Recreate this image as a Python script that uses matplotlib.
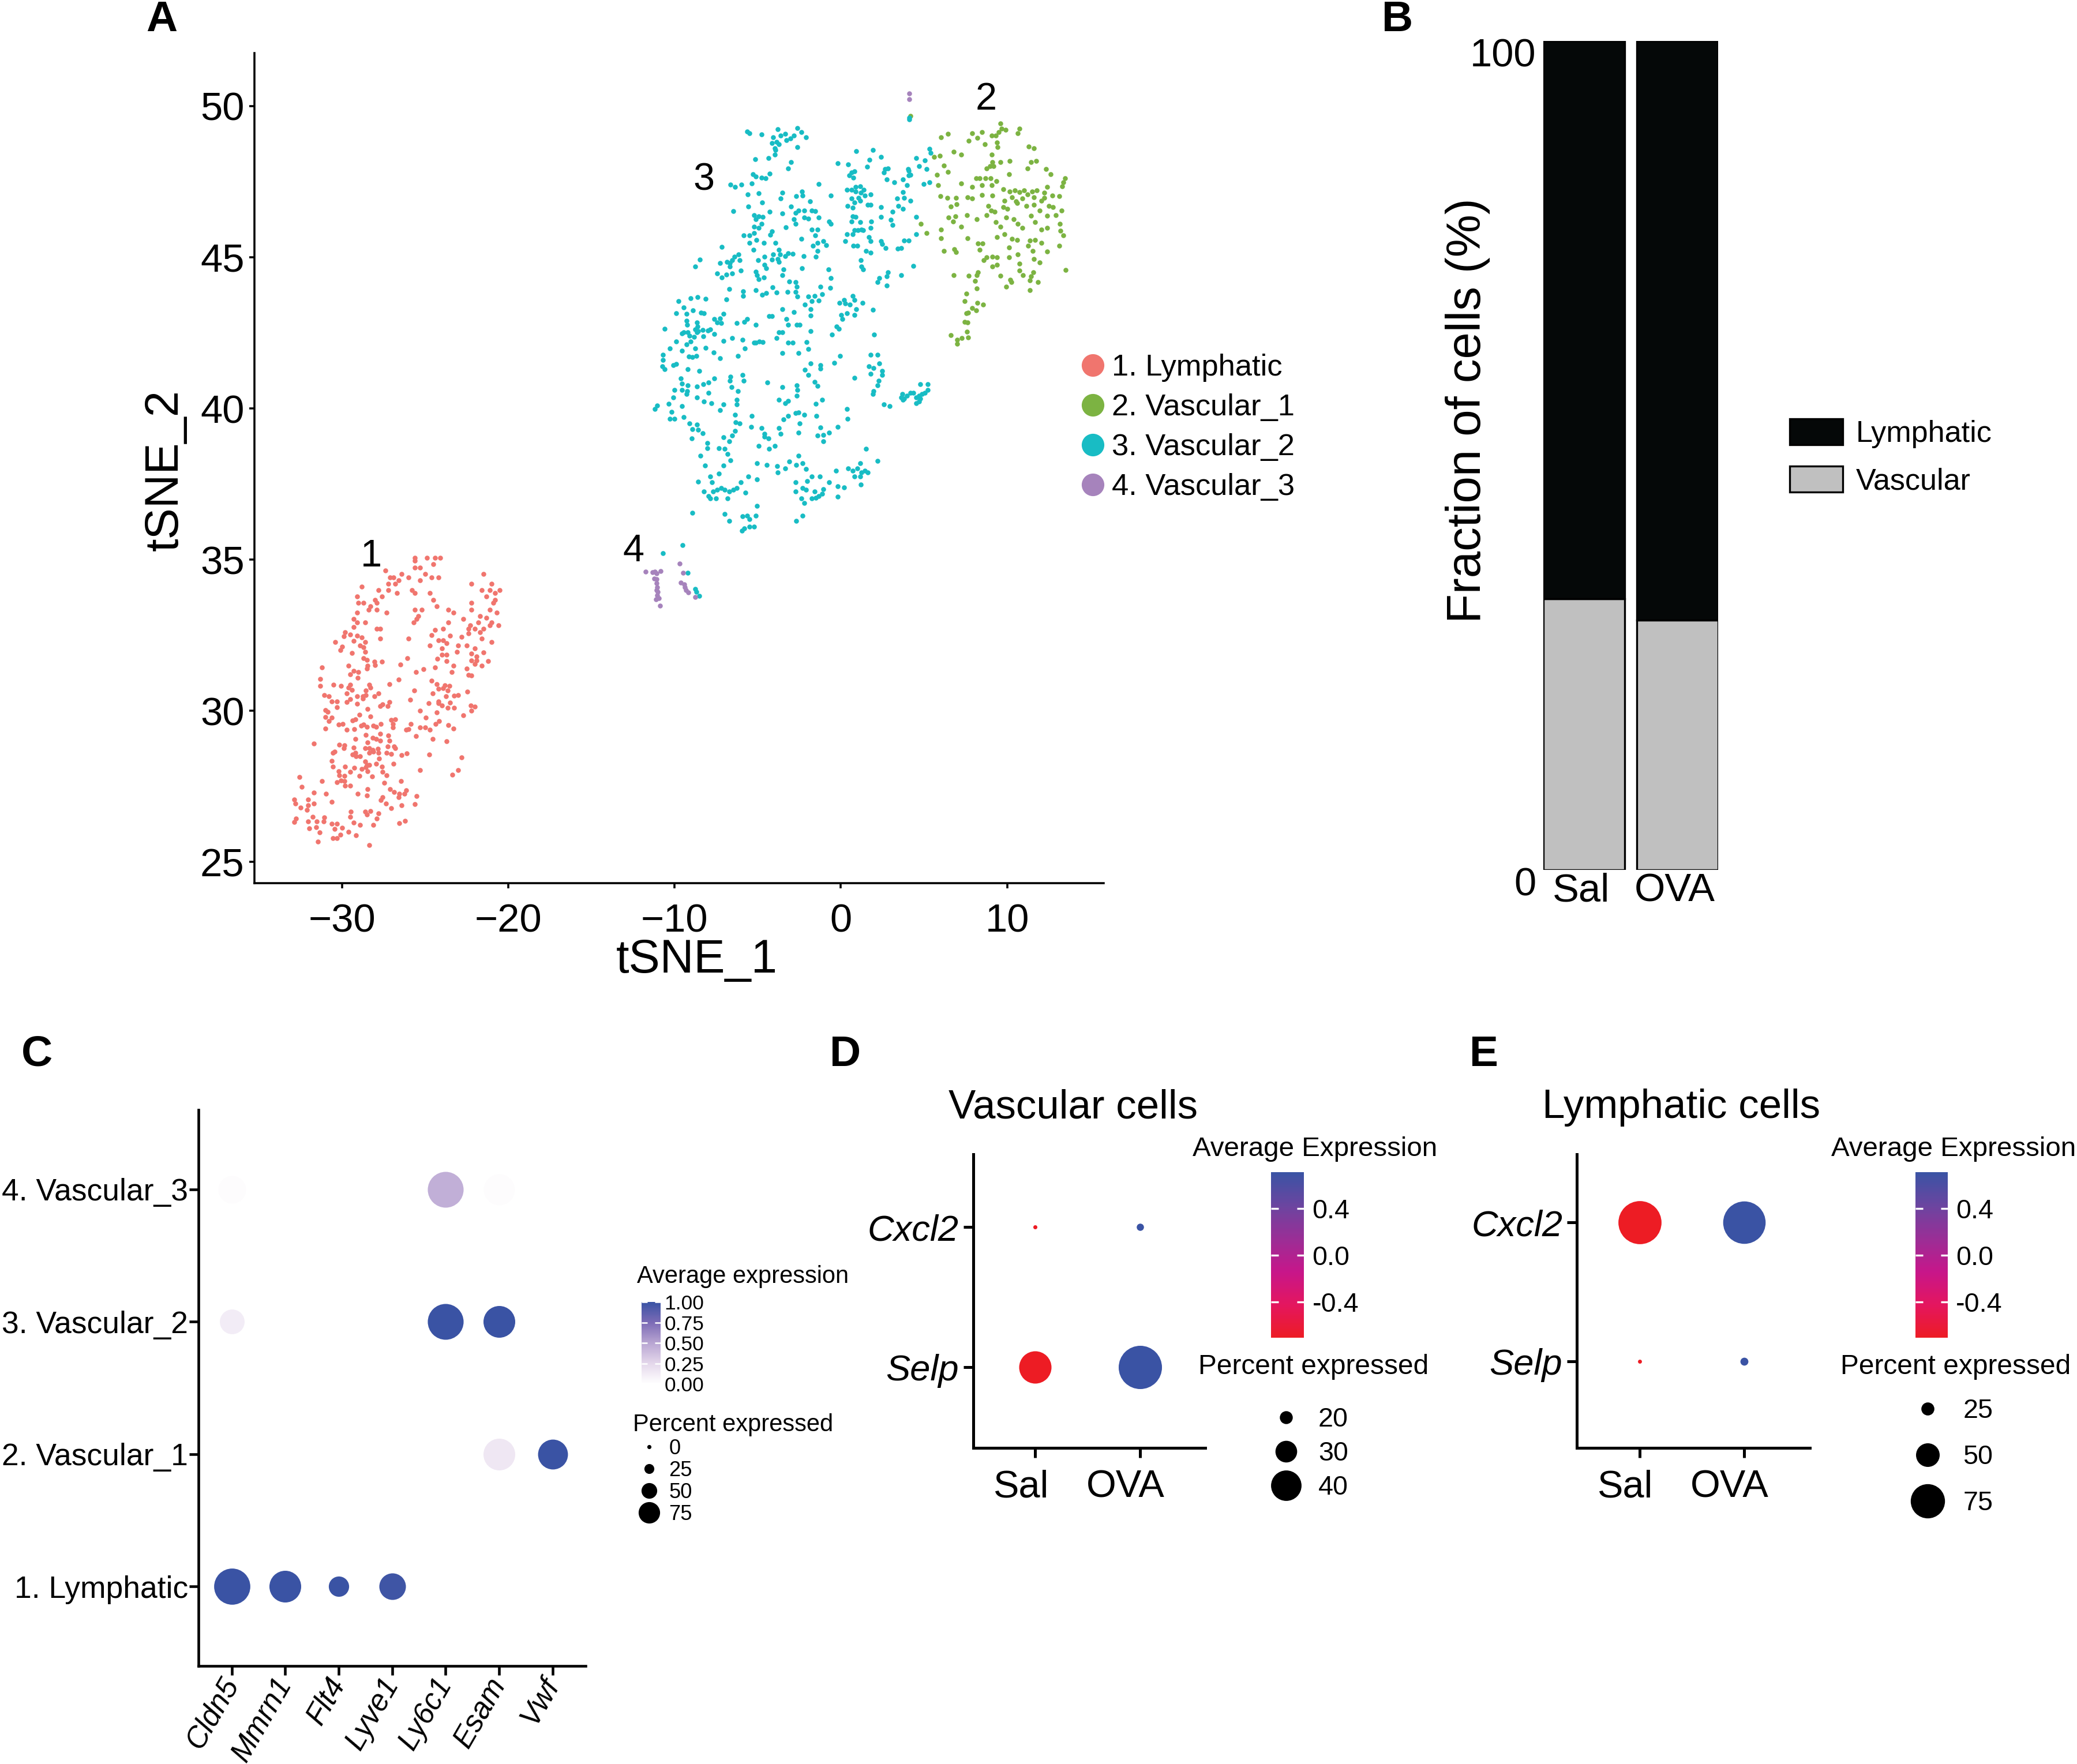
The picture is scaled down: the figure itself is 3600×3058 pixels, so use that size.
import numpy as np
import matplotlib
matplotlib.use('Agg')
import matplotlib.pyplot as plt
from matplotlib.colors import LinearSegmentedColormap, Normalize
from matplotlib.cm import ScalarMappable
from matplotlib.lines import Line2D
from matplotlib.patches import Patch
import matplotlib.transforms as mtransforms

plt.rcParams['font.family'] = ['Liberation Sans', 'DejaVu Sans']

# ---------------- data: panel A (tSNE coordinates) ----------------
lymphatic_pts = np.array([
    (-25.6,35.07),(-24.9,35.07),(-24.4,35.07),(-24.1,35.07),(-25.6,34.96),(-24.5,34.85),(-25.6,34.74),(-25.3,34.74),
    (-27.4,34.64),(-26.4,34.53),(-27.1,34.42),(-26.9,34.42),(-26.6,34.32),(-26.0,34.42),(-25.0,34.53),(-24.6,34.42),
    (-24.2,34.42),(-21.5,34.53),(-21.0,34.21),(-22.2,34.21),(-27.2,34.21),(-26.8,34.21),(-25.3,34.32),(-28.8,34.10),
    (-27.8,33.99),(-27.2,33.99),(-26.7,33.89),(-25.8,33.99),(-25.6,33.89),(-24.7,33.89),(-21.6,33.99),(-21.1,33.99),
    (-20.8,33.89),(-20.5,33.99),(-29.1,33.78),(-27.6,33.78),(-21.3,33.78),(-20.8,33.67),(-29.0,33.57),(-28.7,33.57),
    (-28.3,33.46),(-28.0,33.67),(-27.9,33.57),(-24.5,33.67),(-22.2,33.57),(-20.9,33.57),(-24.3,33.46),(-28.4,33.35),
    (-27.9,33.35),(-27.3,33.25),(-25.6,33.35),(-25.2,33.35),(-23.6,33.35),(-23.3,33.25),(-22.2,33.35),(-21.1,33.35),
    (-20.7,33.25),(-29.1,33.25),(-25.4,33.14),(-25.5,33.03),(-29.3,33.03),(-29.1,32.92),(-25.7,32.92),(-28.6,32.92),
    (-23.6,32.92),(-22.7,33.03),(-21.7,33.14),(-21.3,33.08),(-21.8,32.92),(-21.0,32.92),(-20.6,32.82),(-21.1,32.82),
    (-29.3,32.77),(-27.9,32.71),(-27.7,32.71),(-23.9,32.71),(-22.3,32.82),(-22.4,32.71),(-22.0,32.71),(-21.5,32.71),
    (-29.8,32.60),(-29.5,32.52),(-29.9,32.46),(-29.1,32.48),(-28.8,32.42),(-28.6,32.28),(-29.3,32.31),(-27.7,32.39),
    (-26.0,32.39),(-24.6,32.50),(-24.4,32.68),(-23.5,32.49),(-22.8,32.45),(-22.4,32.56),(-21.7,32.60),(-21.6,32.39),
    (-30.4,32.28),(-30.0,32.12),(-30.1,32.01),(-28.9,32.16),(-28.7,32.10),(-28.6,31.96),(-29.4,31.91),(-24.2,32.34),
    (-23.9,32.34),(-23.7,32.23),(-24.7,32.16),(-23.0,32.17),(-22.5,32.17),(-21.0,32.28),(-22.0,32.07),(-21.5,31.93),
    (-24.0,32.07),(-24.0,31.85),(-23.7,31.85),(-23.1,31.96),(-22.2,31.89),(-21.9,31.80),(-28.7,31.75),(-28.5,31.69),
    (-26.05,31.75),(-24.25,31.73),(-22.2,31.67),(-21.9,31.67),(-21.2,31.64),(-23.7,31.64),(-28.05,31.62),(-28.0,31.51),
    (-27.6,31.62),(-28.45,31.50),(-28.5,31.40),(-29.6,31.50),(-26.5,31.53),(-22.0,31.55),(-21.6,31.50),(-31.2,31.43),
    (-24.4,31.44),(-23.3,31.50),(-25.1,31.38),(-22.5,31.40),(-29.3,31.32),(-29.0,31.29),(-29.5,31.20),(-29.05,31.09),
    (-25.55,31.28),(-23.4,31.29),(-22.4,31.18),(-22.2,31.16),(-31.3,31.05),(-26.6,31.03),(-24.6,31.00),(-31.3,30.83),
    (-30.5,30.86),(-30.05,30.82),(-29.5,30.86),(-29.6,30.77),(-29.4,30.70),(-28.35,30.87),(-28.3,30.76),(-27.15,30.88),
    (-24.3,30.89),(-23.8,30.84),(-23.55,30.83),(-24.2,30.73),(-23.9,30.75),(-25.65,30.68),(-28.55,30.67),(-23.65,30.67),
    (-31.05,30.53),(-30.8,30.48),(-29.7,30.58),(-29.1,30.49),(-28.75,30.49),(-28.55,30.53),(-28.75,30.40),(-28.05,30.49),
    (-27.8,30.57),(-24.55,30.58),(-23.75,30.49),(-23.25,30.50),(-23.0,30.53),(-22.45,30.63),(-30.6,30.31),(-30.3,30.32),
    (-29.7,30.30),(-29.5,30.38),(-29.1,30.23),(-27.15,30.30),(-25.9,30.36),(-24.8,30.25),(-24.2,30.32),(-24.2,30.25),
    (-24.0,30.18),(-23.5,30.27),(-30.3,30.12),(-27.7,30.15),(-27.55,30.21),(-27.25,30.16),(-22.25,30.17),(-22.0,30.13),
    (-22.2,30.01),(-23.65,30.10),(-23.25,30.10),(-25.3,30.00),(-24.3,29.95),(-31.0,30.03),(-30.85,29.96),(-28.95,29.88),
    (-28.45,30.06),(-31.0,29.80),(-30.6,29.78),(-30.8,29.67),(-29.35,29.68),(-29.2,29.72),(-28.3,29.82),(-27.05,29.71),
    (-26.8,29.72),(-24.95,29.78),(-22.7,29.85),(-30.2,29.54),(-29.95,29.56),(-31.0,29.42),(-29.7,29.37),(-29.25,29.40),
    (-28.85,29.51),(-28.7,29.55),(-28.5,29.48),(-28.1,29.51),(-27.95,29.48),(-27.65,29.57),(-26.95,29.57),(-26.95,29.46),
    (-25.85,29.57),(-26.15,29.37),(-26.0,29.39),(-25.3,29.46),(-25.0,29.46),(-24.7,29.37),(-24.35,29.56),(-24.15,29.66),
    (-23.6,29.52),(-23.3,29.42),(-25.55,29.16),(-24.55,29.08),(-23.7,29.00),(-29.2,29.08),(-28.55,29.20),(-28.15,29.10),
    (-27.95,29.07),(-27.7,29.25),(-27.7,29.02),(-27.2,29.18),(-27.15,29.01),(-31.7,28.92),(-30.15,28.88),(-29.85,28.86),
    (-29.9,28.76),(-29.3,28.79),(-28.45,28.96),(-28.6,28.77),(-28.35,28.76),(-28.1,28.65),(-27.85,28.75),(-27.25,28.82),
    (-26.85,28.82),(-26.8,28.76),(-30.55,28.62),(-30.45,28.65),(-29.2,28.61),(-29.15,28.50),(-29.35,28.55),(-28.9,28.50),
    (-28.35,28.62),(-28.15,28.70),(-27.8,28.62),(-27.3,28.62),(-27.05,28.58),(-26.4,28.54),(-26.1,28.59),(-24.75,28.55),
    (-22.8,28.47),(-30.6,28.35),(-27.75,28.42),(-28.6,28.32),(-28.5,28.21),(-28.35,28.22),(-27.95,28.25),(-26.9,28.26),
    (-30.55,28.15),(-29.8,28.15),(-29.25,28.11),(-28.8,28.08),(-28.55,28.13),(-27.6,28.16),(-27.55,27.98),(-30.2,28.00),
    (-29.5,27.99),(-28.45,28.00),(-25.3,28.04),(-23.0,28.05),(-32.55,27.82),(-30.15,27.87),(-29.85,27.86),(-28.95,27.86),
    (-28.2,27.83),(-27.3,27.87),(-23.35,27.89),(-31.2,27.67),(-30.3,27.64),(-30.05,27.70),(-29.85,27.67),(-26.45,27.67),
    (-27.45,27.63),(-29.8,27.53),(-29.5,27.52),(-32.4,27.48),(-31.7,27.29),(-30.95,27.26),(-29.05,27.25),(-28.5,27.21),
    (-28.45,27.41),(-27.1,27.42),(-26.85,27.31),(-26.55,27.26),(-26.25,27.26),(-27.55,27.15),(-26.6,27.14),(-26.15,27.37),
    (-25.5,27.18),(-32.85,27.07),(-32.05,27.07),(-32.8,26.93),(-32.05,26.88),(-31.7,26.93),(-30.6,26.99),(-27.65,27.05),
    (-27.35,26.93),(-27.05,26.78),(-26.4,26.87),(-25.6,26.92),(-32.5,26.80),(-32.1,26.72),(-29.45,26.66),(-28.6,26.66),
    (-28.5,26.58),(-28.3,26.68),(-27.8,26.62),(-32.75,26.43),(-32.85,26.32),(-32.05,26.34),(-31.75,26.50),(-31.5,26.34),
    (-31.1,26.34),(-31.05,26.48),(-29.5,26.50),(-27.9,26.43),(-31.95,26.12),(-31.55,26.15),(-30.6,26.26),(-30.3,26.26),
    (-30.45,26.09),(-30.0,26.13),(-31.35,25.98),(-29.6,26.00),(-29.3,26.31),(-28.9,26.22),(-28.1,26.22),(-26.55,26.29),
    (-26.2,26.36),(-30.55,25.80),(-30.3,25.80),(-30.1,25.91),(-29.15,25.88),(-31.45,25.67),(-28.35,25.56),
])

vascular1_pts = np.array([
    (4.18,49.68),(9.58,49.42),(9.67,49.25),(9.49,49.13),(9.9,49.22),(10.73,49.25),(10.64,49.1),(7.9,49.1),
    (8.48,49.13),(6.04,48.96),(6.44,49.08),(7.68,48.86),(8.22,48.95),(9.08,49.03),(9.31,49.03),(9.4,48.79),
    (9.44,48.64),(8.66,48.74),(11.31,48.67),(11.62,48.61),(6.78,48.48),(7.24,48.4),(5.95,48.35),(5.59,48.32),
    (9.08,48.4),(9.1,48.15),(9.58,48.15),(10.15,48.18),(11.44,48.15),(11.76,48.18),(6.21,48.03),(8.78,47.93),
    (8.96,48.01),(9.19,48.01),(6.44,47.83),(5.77,47.72),(11.23,47.94),(12.32,47.91),(12.62,47.74),(10.11,47.74),
    (13.48,47.62),(13.39,47.47),(13.3,47.35),(5.86,47.38),(7.24,47.44),(8.13,47.62),(8.34,47.62),(8.69,47.62),
    (9.01,47.62),(9.37,47.52),(7.9,47.33),(8.48,47.38),(9.08,47.38),(9.76,47.25),(10.15,47.18),(10.46,47.21),
    (10.73,47.15),(11.03,47.21),(11.23,47.08),(11.49,47.18),(11.79,47.21),(12.24,47.13),(12.41,47.33),(12.73,47.04),
    (13.12,47.02),(6.0,47.02),(6.39,46.96),(6.92,46.96),(7.63,46.99),(7.9,46.94),(8.48,47.06),(9.1,47.04),
    (9.84,46.86),(10.29,46.99),(10.55,46.84),(10.91,46.94),(11.62,46.99),(12.06,46.86),(12.24,46.96),(12.5,46.7),
    (12.77,46.65),(13.26,46.55),(6.6,46.67),(6.96,46.76),(7.6,46.4),(8.87,46.7),(9.05,46.55),(9.26,46.5),
    (9.76,46.65),(10.02,46.6),(10.61,46.79),(11.17,46.7),(11.62,46.74),(11.97,46.55),(12.41,46.37),(12.94,46.4),
    (4.8,46.11),(6.48,46.31),(6.75,46.18),(6.89,46.36),(7.24,46.0),(6.04,45.92),(8.16,46.26),(8.78,46.4),
    (9.31,46.16),(9.58,46.0),(9.93,46.31),(10.38,46.26),(10.64,46.11),(11.44,46.37),(11.67,46.16),(12.06,45.92),
    (12.41,45.97),(13.16,46.11),(13.21,45.87),(5.15,45.8),(6.04,45.63),(7.63,45.63),(8.25,45.46),(8.52,45.46),
    (9.4,45.67),(9.84,45.77),(10.29,45.6),(10.61,45.58),(10.91,45.97),(11.35,45.56),(11.67,45.58),(12.06,45.48),
    (13.39,45.72),(13.12,45.38),(6.21,45.21),(6.83,45.27),(6.92,45.17),(8.34,45.24),(9.1,45.01),(9.4,45.0),
    (8.78,45.0),(8.6,44.9),(10.11,45.33),(11.26,45.38),(11.53,45.21),(11.62,44.94),(12.41,45.19),(10.11,45.0),
    (10.64,45.09),(9.1,44.7),(9.4,44.75),(10.73,44.78),(11.97,44.82),(13.51,44.58),(6.8,44.41),(7.68,44.39),
    (8.16,44.41),(8.25,44.51),(9.58,44.39),(10.2,44.26),(10.25,44.17),(10.73,44.56),(10.96,44.41),(11.44,44.36),
    (11.58,44.51),(11.35,44.23),(11.85,44.17),(9.93,44.02),(11.35,43.92),(8.07,44.21),(8.16,43.97),(7.54,43.8),
    (7.45,43.55),(8.2,43.49),(8.57,43.44),(7.9,43.32),(8.13,43.24),(7.54,43.14),(7.67,43.16),(7.45,42.87),
    (7.63,42.85),(7.6,42.54),(6.6,42.43),(7.01,42.27),(7.28,42.32),(7.67,42.34),(6.98,42.14),
])

vascular2_pts = np.array([
    (-5.62,49.16),(-5.48,49.10),(-4.77,49.06),(-3.80,49.24),(-2.61,49.27),(-2.38,49.13),(-2.11,48.96),(-3.62,49.03),
    (-3.35,49.08),(-4.06,48.96),(-4.15,48.77),(-3.88,48.81),(-3.71,48.74),(-3.97,48.61),(-3.92,48.54),(-3.26,48.88),
    (-3.03,48.93),(-2.82,49.03),(-2.61,48.64),(-5.16,48.25),(-4.36,48.27),(-3.97,48.40),(-3.0,48.15),(-3.18,47.93),
    (-5.30,47.74),(-5.12,47.67),(-4.77,47.64),(-4.54,47.62),(-4.27,47.77),(-6.63,47.41),(-6.36,47.33),(-5.97,47.41),
    (-5.34,47.44),(-5.60,47.08),(-4.95,47.11),(-4.72,46.82),(-5.57,46.67),(-6.45,46.52),(-4.27,46.50),(-5.21,46.40),
    (-4.95,46.36),(-4.68,46.34),(-5.12,46.26),(-4.77,46.11),(-5.23,46.01),(-4.95,45.97),(-5.21,45.80),(-5.48,45.72),
    (-5.83,45.72),(-5.51,45.48),(-5.09,45.58),(-4.63,45.48),(-4.15,45.85),(-4.24,45.74),(-3.62,46.94),(-3.53,47.13),
    (-2.68,47.02),(-2.33,47.18),(-2.29,47.04),(-1.85,46.84),(-3.0,46.67),(-2.73,46.47),(-2.56,46.55),(-2.20,46.55),
    (-2.20,46.31),(-1.94,46.28),(-1.76,46.55),(-1.55,46.52),(-1.32,46.31),(-3.53,46.45),(-3.30,45.99),(-2.82,46.26),
    (-2.73,46.11),(-2.38,45.61),(-1.76,45.92),(-1.41,45.92),(-1.55,45.72),(-1.41,45.48),(-1.05,45.53),(-0.88,45.40),
    (-1.67,45.38),(-1.41,45.21),(-1.32,47.42),(-0.61,47.04),(-0.20,48.11),(0.45,48.06),(0.93,48.51),(1.73,48.22),
    (1.92,48.54),(2.40,48.32),(1.57,47.99),(0.63,47.81),(0.81,47.84),(0.51,47.70),(0.75,47.64),(2.67,47.91),
    (2.84,47.94),(2.58,47.81),(2.75,47.57),(3.20,47.47),(3.73,47.57),(4.08,47.86),(4.08,47.70),(3.99,47.38),
    (0.36,47.23),(0.63,47.23),(0.90,47.33),(1.16,47.35),(0.90,47.18),(1.21,47.13),(1.39,47.23),(0.63,46.94),
    (1.07,46.96),(1.16,46.86),(1.43,47.04),(1.78,47.08),(0.81,46.82),(0.40,46.70),(0.72,46.63),(1.60,46.74),
    (1.78,46.74),(2.40,46.65),(3.11,46.50),(3.46,46.70),(3.37,46.94),(3.73,47.15),(3.82,46.96),(4.17,46.86),
    (3.73,46.60),(0.72,46.36),(0.90,46.34),(1.16,46.16),(0.63,46.18),(1.25,45.92),(1.83,46.18),(1.78,45.97),
    (0.36,45.77),(0.72,45.77),(0.81,45.89),(1.02,45.89),(1.34,45.89),(1.69,45.67),(1.78,45.53),(0.28,45.53),
    (0.75,45.38),(0.98,45.38),(1.51,45.21),(1.78,45.16),(2.40,45.53),(2.49,45.43),(2.70,45.30),(2.40,46.33),
    (3.02,46.23),(3.11,46.06),(3.43,45.28),(3.64,45.30),(3.82,45.55),(4.08,45.55),(4.52,45.77),(4.52,46.34),
    (4.70,48.01),(5.05,48.20),(5.32,48.59),(5.41,48.45),(5.14,47.91),(4.97,47.43),(5.32,47.47),(4.52,48.28),
    (4.05,47.91),(4.17,47.72),(-0.61,46.11),(-0.70,46.18),(-1.49,45.01),(-2.24,45.04),(-3.18,45.14),(-2.91,45.12),
    (-3.35,45.04),(-3.65,45.09),(-3.71,45.24),(-3.92,45.48),(-4.06,45.09),(-4.15,44.92),(-3.80,44.94),(-3.71,44.85),
    (-4.59,45.01),(-4.59,44.75),(-4.50,44.63),(-4.98,44.90),(-5.25,45.24),(-6.15,45.09),(-6.40,45.01),(-6.10,44.90),
    (-6.54,44.90),(-6.66,44.80),(-6.86,44.85),(-7.16,45.35),(-7.28,44.80),(-7.42,44.46),(-7.16,44.33),(-6.89,44.43),
    (-6.54,44.46),(-6.01,44.56),(-6.68,44.70),(-8.49,44.92),(-8.75,44.70),(-5.12,44.53),(-5.03,44.41),(-4.95,44.28),
    (-4.63,44.34),(-3.44,44.60),(-3.53,44.41),(-2.33,44.63),(-0.75,44.60),(-0.61,44.31),(-3.09,44.20),(-2.73,44.17),
    (-2.65,44.02),(-3.21,43.85),(-2.73,43.85),(-2.61,43.70),(-3.88,43.83),(-4.10,44.0),(-4.50,43.81),(-4.73,43.75),
    (-5.12,43.92),(-5.87,43.87),(-5.87,43.73),(-6.72,43.94),(-6.89,43.61),(-1.94,43.71),(-1.58,43.73),(-1.23,44.02),
    (-1.14,43.77),(-1.32,43.57),(-1.76,43.55),(-2.15,43.44),(-1.80,43.29),(-0.65,43.99),(0.72,43.73),(0.81,43.58),
    (0.28,43.47),(0.54,43.44),(0.93,43.29),(1.30,43.49),(1.92,43.26),(0.01,43.10),(0.36,43.14),(0.81,43.10),
    (0.10,42.95),(-0.26,42.71),(-0.13,42.63),(-0.52,42.44),(1.99,42.44),(-1.80,43.07),(-1.80,42.56),(-2.82,43.19),
    (-2.65,42.76),(-2.47,42.76),(-3.53,43.29),(-3.26,42.95),(-3.18,42.76),(-3.71,42.51),(-3.53,42.51),(-4.15,43.05),
    (-4.33,43.05),(-3.88,42.32),(-4.91,42.22),(-5.21,42.17),(-4.68,42.19),(-5.78,41.98),(-6.19,41.73),(-6.54,42.32),
    (-5.92,42.27),(-7.07,42.24),(-7.60,42.46),(-7.99,42.58),(-8.27,42.39),(-8.66,42.51),(-8.75,42.61),(-9.11,42.41),
    (-9.46,42.51),(-9.90,42.22),(-10.29,41.98),(-10.70,41.78),(-10.70,41.61),(-10.75,41.39),(-10.61,41.30),(-10.08,41.44),
    (-9.90,41.47),(-9.55,41.90),(-9.28,42.12),(-9.02,42.22),(-8.84,42.37),(-8.75,41.98),(-8.70,41.73),(-8.93,41.69),
    (-9.14,41.71),(-8.13,42.0),(-7.64,41.86),(-7.28,41.66),(-10.61,42.64),(-9.76,43.55),(-9.46,43.34),(-9.05,43.65),
    (-8.63,43.68),(-8.13,43.63),(-8.22,43.14),(-8.40,43.16),(-8.88,43.24),(-9.28,43.12),(-9.28,42.90),(-9.23,42.76),
    (-8.66,42.85),(-8.63,42.71),(-8.57,42.56),(-8.31,42.59),(-9.55,42.48),(-9.20,42.51),(-9.90,43.14),(-7.60,42.95),
    (-7.42,42.85),(-7.21,42.83),(-7.07,43.12),(-7.87,42.61),(-7.28,42.97),(-6.27,42.83),(-5.80,42.87),(-5.65,42.95),
    (-5.12,42.76),(-5.12,42.17),(-3.53,41.83),(-3.18,42.17),(-2.91,42.17),(-2.56,41.83),(-2.06,42.19),(-1.94,41.96),
    (-0.40,41.51),(-0.04,41.73),(-1.80,41.49),(-1.23,41.44),(-1.23,41.32),(-2.15,41.28),(-1.97,41.10),(-1.58,40.88),
    (-1.41,40.74),(-2.65,40.76),(-2.61,40.62),(-3.53,40.71),(-2.65,40.42),(-4.41,40.86),(-5.92,41.10),(-5.83,40.91),
    (-6.63,41.05),(-6.68,40.91),(-6.57,40.71),(-7.60,41.0),(-7.95,40.86),(-8.52,41.25),(-9.20,41.30),(-9.64,41.0),
    (-9.55,40.83),(-9.20,40.76),(-9.55,40.62),(-9.23,40.57),(-8.66,40.73),(-8.26,40.81),(-9.99,40.62),(-9.28,40.47),
    (-10.08,40.37),(-7.95,40.52),(-8.66,40.37),(-8.22,40.23),(-7.78,40.18),(-7.07,40.13),(-7.25,39.95),(-6.27,40.28),
    (-6.19,40.57),(-6.27,40.13),(-6.36,39.79),(-6.31,39.55),(-6.10,39.50),(-6.36,39.25),(-5.34,39.76),(-5.39,39.40),
    (-4.77,39.35),(-4.59,39.16),(-4.59,39.06),(-4.36,39.01),(-4.33,38.67),(-3.97,38.77),(-4.95,38.77),(-3.71,39.35),
    (-3.62,39.16),(-3.44,39.64),(-3.18,39.76),(-2.73,39.84),(-2.56,39.86),(-2.20,39.79),(-2.47,39.50),(-3.35,40.18),
    (-3.18,40.25),(-3.71,40.28),(-2.56,39.20),(-1.46,39.76),(-1.23,39.37),(-1.41,39.11),(-1.05,39.13),(-1.05,38.91),
    (-0.70,39.20),(-0.17,39.40),(0.36,39.98),(0.40,39.66),(-1.14,40.28),(-1.49,40.15),(-11.05,40.10),(-11.18,39.98),
    (-10.34,40.16),(-9.55,40.08),(-10.17,39.89),(-10.29,39.66),(-9.99,39.66),(-9.46,39.72),(-9.11,39.50),(-8.66,39.47),
    (-8.93,39.32),(-8.57,39.30),(-8.31,39.18),(-8.96,39.01),(-8.04,38.86),(-8.04,38.69),(-7.34,38.69),(-6.98,38.67),
    (-6.72,38.91),(-6.54,39.11),(-7.07,39.04),(-8.45,38.43),(-8.17,38.11),(-7.07,38.11),(-6.63,38.28),(-6.80,38.50),
    (-5.03,38.18),(-4.45,38.13),(-3.83,38.09),(-3.80,37.89),(-3.35,38.01),(-3.09,38.25),(-2.68,38.13),(-2.56,38.43),
    (-2.29,38.18),(-2.11,37.99),(-1.76,37.75),(-2.02,37.60),(-2.29,37.36),(-2.11,37.31),(-2.73,37.55),(-1.26,37.75),
    (-0.70,37.55),(-1.05,37.33),(-1.32,37.11),(-1.14,37.18),(-0.17,37.42),(0.19,37.39),(-0.20,37.09),(-0.29,37.94),
    (0.45,38.01),(0.72,37.94),(0.98,38.01),(1.16,38.18),(1.25,37.89),(1.43,37.94),(1.60,37.89),(1.51,38.67),
    (2.22,38.26),(0.81,37.75),(1.16,37.75),(1.21,37.48),(-8.57,37.58),(-7.87,37.75),(-7.74,37.55),(-7.34,37.84),
    (-7.69,37.26),(-7.42,37.31),(-7.19,37.36),(-6.98,37.31),(-6.72,37.26),(-6.45,37.31),(-6.27,37.36),(-6.01,37.55),
    (-5.74,37.21),(-5.57,37.75),(-5.03,37.65),(-8.22,37.26),(-7.95,37.11),(-7.51,37.02),(-6.80,37.02),(-7.87,37.02),
    (-2.73,37.26),(-2.38,37.02),(-1.76,37.02),(-1.49,37.05),(-1.58,37.26),(-2.20,36.87),(-8.93,36.55),(-6.98,36.51),
    (-6.72,36.29),(-5.92,36.43),(-5.65,36.45),(-5.48,36.34),(-5.12,36.45),(-5.03,36.77),(-5.96,35.95),(-5.80,36.04),
    (-5.51,36.09),(-5.21,36.09),(-2.68,36.29),(-2.29,36.45),
    (1.78,41.78),(2.22,41.78),(1.69,41.39),(1.78,41.15),(1.96,41.34),(2.31,41.49),(2.49,41.25),(2.49,41.10),
    (2.28,40.91),(2.22,40.76),(1.96,40.57),(1.92,40.47),(2.58,40.13),(2.93,40.08),(0.81,41.02),(3.64,40.37),
    (3.82,40.32),(3.99,40.42),(4.17,40.52),(4.35,40.52),(4.52,40.37),(4.70,40.42),(4.79,40.32),(4.88,40.47),
    (5.05,40.52),(5.23,40.62),(5.23,40.81),(4.79,40.81),(4.52,40.18),(4.70,40.23),(3.73,40.28),(3.69,40.47),
    (2.84,44.51),(2.75,44.36),(2.31,44.31),(2.22,44.17),(2.75,44.07),(3.64,44.41),(4.35,44.72),(1.25,44.70),
    (1.34,44.60),(1.21,44.90),(-0.08,43.49),(0.19,43.58),(4.12,49.61),(4.12,49.55),
    (-10.71,35.22),(-9.52,35.48),(-9.22,34.56),(-8.77,34.03),(-8.68,33.93),(-8.51,33.81),
])

vascular3_pts = np.array([
    (-11.75,34.6),(-11.31,34.58),(-11.17,34.61),(-11.09,34.55),(-10.82,34.62),(-11.23,34.37),(-11.09,34.36),
    (-11.08,34.23),(-11.05,34.08),(-11.09,33.99),(-11.02,33.93),(-11.05,33.83),(-10.94,33.73),(-11.11,33.68),
    (-10.88,33.48),(-9.69,34.87),(-9.49,34.56),(-9.61,34.24),(-9.43,34.18),(-9.37,34.08),(-9.32,33.99),
    (-9.17,33.91),(-8.77,33.77),(4.12,50.42),(4.12,50.22),
])

cluster_names = ['1. Lymphatic', '2. Vascular_1', '3. Vascular_2', '4. Vascular_3']
cluster_colors = ['#F0756E', '#7CB342', '#18BCC4', '#A683BC']
cluster_tags = ['1', '2', '3', '4']

# ---------------- data: panel B ----------------
conditions = ['Sal', 'OVA']
vascular_frac = [32.7, 30.1]
lymphatic_frac = [100 - v for v in vascular_frac]

# ---------------- data: panel C (rows = clusters 1..4, cols = genes) ----------------
marker_genes = ['Cldn5', 'Mmrn1', 'Flt4', 'Lyve1', 'Ly6c1', 'Esam', 'Vwf']
marker_avg = np.array([
    [1.00, 1.00, 1.00, 0.98, 0.00, 0.00, 0.00],
    [0.00, 0.00, 0.00, 0.00, 0.00, 0.15, 1.00],
    [0.12, 0.00, 0.00, 0.00, 1.00, 1.00, 0.00],
    [0.02, 0.00, 0.00, 0.00, 0.45, 0.02, 0.00],
])
marker_pct = np.array([
    [88, 76, 45, 62, 0, 0, 0],
    [0, 0, 0, 0, 0, 76, 71],
    [57, 0, 0, 0, 87, 76, 0],
    [65, 0, 0, 0, 87, 74, 0],
])

# ---------------- data: panels D, E (rows = Selp, Cxcl2; cols = Sal, OVA) ----------------
de_genes = ['Selp', 'Cxcl2']
vasc_avg = np.array([[-0.707, 0.707], [-0.707, 0.707]])
vasc_pct = np.array([[37.5, 47.5], [11.7, 14.6]])
lymph_avg = np.array([[-0.707, 0.707], [-0.707, 0.707]])
lymph_pct = np.array([[6.0, 12.0], [65.0, 64.0]])

DPI = 300
fig = plt.figure(figsize=(12, 3058 / DPI), dpi=DPI)


def px2pt(d):
    return d * 72.0 / DPI


def area(d):
    return px2pt(d) ** 2


# ---------------- panel A ----------------
axA = fig.add_axes([0.1225, 0.4993, 0.409, 0.4706])
for pts, col in zip([lymphatic_pts, vascular1_pts, vascular2_pts, vascular3_pts], cluster_colors):
    axA.scatter(pts[:, 0], pts[:, 1], s=4.2, c=col, linewidths=0)
axA.set_xlim(-35.26, 15.82)
axA.set_ylim(24.3, 51.75)
axA.set_xticks([-30, -20, -10, 0, 10])
axA.set_yticks([25, 30, 35, 40, 45, 50])
axA.spines[['top', 'right']].set_visible(False)
for s in ['left', 'bottom']:
    axA.spines[s].set_linewidth(0.85)
axA.tick_params(labelsize=16.5, length=2.2, width=0.85)
axA.tick_params(axis='x', pad=6)
axA.tick_params(axis='y', pad=2)
axA.set_xlabel('tSNE_1', fontsize=19.5, va='center')
axA.xaxis.set_label_coords(0.521, -0.093)
axA.set_ylabel('tSNE_2', fontsize=19.5, va='center')
axA.yaxis.set_label_coords(-0.1046, 0.4976)
tag_pos = [(-28.25, 35.1), (8.73, 50.2), (-8.25, 47.55), (-12.47, 35.28)]
for t, (tx, ty) in zip(cluster_tags, tag_pos):
    axA.text(tx, ty, t, fontsize=16, ha='center', va='center')
handlesA = [Line2D([], [], ls='', marker='o', color=c, markersize=px2pt(35)) for c in cluster_colors]
fig.legend(handlesA, cluster_names, loc='upper left', bbox_to_anchor=(0.5203, 0.7995),
           frameon=False, fontsize=12.6, handlelength=0.8, handletextpad=0.23,
           labelspacing=0.38, borderpad=0, borderaxespad=0)

# ---------------- panel B ----------------
axB = fig.add_axes([0.7431, 0.5069, 0.0842, 0.4699])
xb = np.arange(len(conditions))
axB.bar(xb, vascular_frac, width=0.87, color='#c0c0c0', edgecolor='black', linewidth=0.8)
axB.bar(xb, lymphatic_frac, bottom=vascular_frac, width=0.87, color='#050808',
        edgecolor='black', linewidth=0.8)
axB.set_xlim(-0.435, 1.435)
axB.set_ylim(0, 100)
for s in axB.spines.values():
    s.set_visible(False)
axB.set_xticks(xb)
axB.set_xticklabels(conditions)
axB.set_yticks([0, 100])
axB.set_yticklabels(['0', '100'])
axB.tick_params(length=0, labelsize=16.5)
axB.tick_params(axis='x', pad=1)
axB.tick_params(axis='y', pad=3)
shift = mtransforms.ScaledTranslation(0, -4.8 / 72, fig.dpi_scale_trans)
for lab in axB.get_yticklabels():
    lab.set_transform(lab.get_transform() + shift)
nudge = mtransforms.ScaledTranslation(-1.2 / 72, 0, fig.dpi_scale_trans)
for lab in axB.get_xticklabels():
    lab.set_transform(lab.get_transform() + nudge)
axB.set_ylabel('Fraction of cells (%)', fontsize=20, va='center')
axB.yaxis.set_label_coords(-0.432, 0.554)
handlesB = [Patch(facecolor='#050808', edgecolor='black', linewidth=0.8),
            Patch(facecolor='#c0c0c0', edgecolor='black', linewidth=0.8)]
fig.legend(handlesB, ['Lymphatic', 'Vascular'], loc='upper left', bbox_to_anchor=(0.8617, 0.7626),
           frameon=False, fontsize=12.5, handlelength=1.77, handleheight=0.96,
           handletextpad=0.44, labelspacing=0.59, borderpad=0, borderaxespad=0)

# ---------------- panel C ----------------
cmapC = LinearSegmentedColormap.from_list('purp', ['#ffffff', '#e4d7eb', '#b8a5d2', '#7c6bb6', '#3a53a4'])
normC = Normalize(0, 1)
axC = fig.add_axes([0.0956, 0.0556, 0.1864, 0.3152])
for ci in range(len(cluster_names)):
    for gi in range(len(marker_genes)):
        p = marker_pct[ci, gi]
        if p <= 0:
            continue
        axC.scatter(gi, ci + 1, s=area(0.64 * p + 6.4), color=cmapC(normC(marker_avg[ci, gi])),
                    linewidths=0)
axC.set_xlim(-0.62, 6.62)
axC.set_ylim(0.4, 4.6)
axC.set_xticks(range(len(marker_genes)))
axC.set_xticklabels(marker_genes, rotation=60, ha='right', va='center', rotation_mode='anchor',
                    style='italic')
axC.set_yticks(range(1, 5))
axC.set_yticklabels(cluster_names)
axC.spines[['top', 'right']].set_visible(False)
for s in ['left', 'bottom']:
    axC.spines[s].set_linewidth(1.1)
axC.tick_params(labelsize=12.8, length=3.8, width=1.1)
axC.tick_params(axis='y', pad=0.5)
axC.tick_params(axis='x', pad=2, labelsize=12.3)

caxC = fig.add_axes([0.3089, 0.2155, 0.0092, 0.0464])
cbC = fig.colorbar(ScalarMappable(norm=normC, cmap=cmapC), cax=caxC)
cbC.outline.set_visible(False)
cbC.set_ticks([0, 0.25, 0.5, 0.75, 1.0])
cbC.set_ticklabels(['0.00', '0.25', '0.50', '0.75', '1.00'])
caxC.tick_params(direction='in', color='white', length=2.5, width=0.6, left=True, right=True,
                 labelsize=8.5, pad=1.5)
fig.text(0.3067, 0.2763, 'Average expression', fontsize=10, va='center')
fig.text(0.3047, 0.1923, 'Percent expressed', fontsize=10, va='center')
legC_pct = [0, 25, 50, 75]
handlesC = [Line2D([], [], ls='', marker='o', color='black', markersize=px2pt(0.4 * p + 3))
            for p in legC_pct]
fig.legend(handlesC, [str(p) for p in legC_pct], loc='upper left', bbox_to_anchor=(0.3085, 0.1844),
           frameon=False, fontsize=8.7, handlelength=0.8, handletextpad=0.54,
           labelspacing=0.08, borderpad=0, borderaxespad=0)

# ---------------- panels D, E ----------------
cmapDE = LinearSegmentedColormap.from_list('rb', ['#ed1c24', '#e4165f', '#c7168a', '#9a2e96',
                                                  '#6b45a0', '#3a53a4'])
normDE = Normalize(-0.7071, 0.7071)


def condition_dotplot(rect, avg, pct, diam, xlim, ylim):
    ax = fig.add_axes(rect)
    for gi in range(len(de_genes)):
        for ki in range(len(conditions)):
            ax.scatter(ki, gi, s=area(diam(pct[gi, ki])), color=cmapDE(normDE(avg[gi, ki])),
                       linewidths=0)
    ax.set_xlim(*xlim)
    ax.set_ylim(*ylim)
    ax.set_xticks(range(len(conditions)))
    ax.set_xticklabels(conditions)
    ax.set_yticks(range(len(de_genes)))
    ax.set_yticklabels(de_genes, style='italic')
    ax.spines[['top', 'right']].set_visible(False)
    for s in ['left', 'bottom']:
        ax.spines[s].set_linewidth(1.2)
    ax.tick_params(length=4, width=1.2)
    ax.tick_params(axis='x', labelsize=16, pad=5)
    ax.tick_params(axis='y', labelsize=15.2, pad=2)
    left = mtransforms.ScaledTranslation(-6 / 72, 0, fig.dpi_scale_trans)
    for lab in ax.get_xticklabels():
        lab.set_transform(lab.get_transform() + left)
    return ax


def de_colorbar(rect):
    cax = fig.add_axes(rect)
    cb = fig.colorbar(ScalarMappable(norm=normDE, cmap=cmapDE), cax=cax)
    cb.outline.set_visible(False)
    cb.set_ticks([-0.4, 0.0, 0.4])
    cb.set_ticklabels(['-0.4', '0.0', '0.4'])
    cax.tick_params(direction='in', color='white', length=3, width=0.8, left=True, right=True,
                    labelsize=11.2, pad=3.4)
    return cb


def size_legend(pcts, diam, anchor, hl, tp, ls):
    hs = [Line2D([], [], ls='', marker='o', color='black', markersize=px2pt(diam(p))) for p in pcts]
    fig.legend(hs, [str(p) for p in pcts], loc='upper left', bbox_to_anchor=anchor, frameon=False,
               fontsize=11.2, handlelength=hl, handletextpad=tp, labelspacing=ls,
               borderpad=0, borderaxespad=0)


diamD = lambda p: 1.9 * (p - 8)
diamE = lambda p: 1.15 * p

condition_dotplot([0.4685, 0.1792, 0.1118, 0.1664], vasc_avg, vasc_pct, diamD, (-0.59, 1.62), (-0.576, 1.52))
de_colorbar([0.6119, 0.2415, 0.016, 0.0939])
fig.text(0.5167, 0.3721, 'Vascular cells', fontsize=17, ha='center', va='center')
fig.text(0.6331, 0.3486, 'Average Expression', fontsize=11.4, ha='center', va='center')
fig.text(0.5769, 0.2250, 'Percent expressed', fontsize=11.5, va='center')
size_legend([20, 30, 40], lambda p: 0.8 * diamD(p), (0.6114, 0.2024), 1.2, 0.6, 0.32)

condition_dotplot([0.7592, 0.1792, 0.1121, 0.1664], lymph_avg, lymph_pct, diamE, (-0.6, 1.63), (-0.62, 1.49))
de_colorbar([0.9221, 0.2415, 0.0156, 0.0939])
fig.text(0.8094, 0.3721, 'Lymphatic cells', fontsize=17, ha='center', va='center')
fig.text(0.8817, 0.3486, 'Average Expression', fontsize=11.4, va='center')
fig.text(0.8861, 0.2250, 'Percent expressed', fontsize=11.5, va='center')
size_legend([25, 50, 75], lambda p: 0.64 * diamE(p), (0.9203, 0.2073), 1.2, 0.71, 0.77)

# ---------------- panel letters ----------------
for letter, (lx, ly) in zip('ABCDE', [(280, 34), (2422, 34), (64, 1828), (1465, 1828), (2572, 1828)]):
    fig.text(lx / 3600, 1 - ly / 3058, letter, fontsize=18, fontweight='bold', ha='center', va='center')

fig.savefig('out.png', dpi=DPI)
